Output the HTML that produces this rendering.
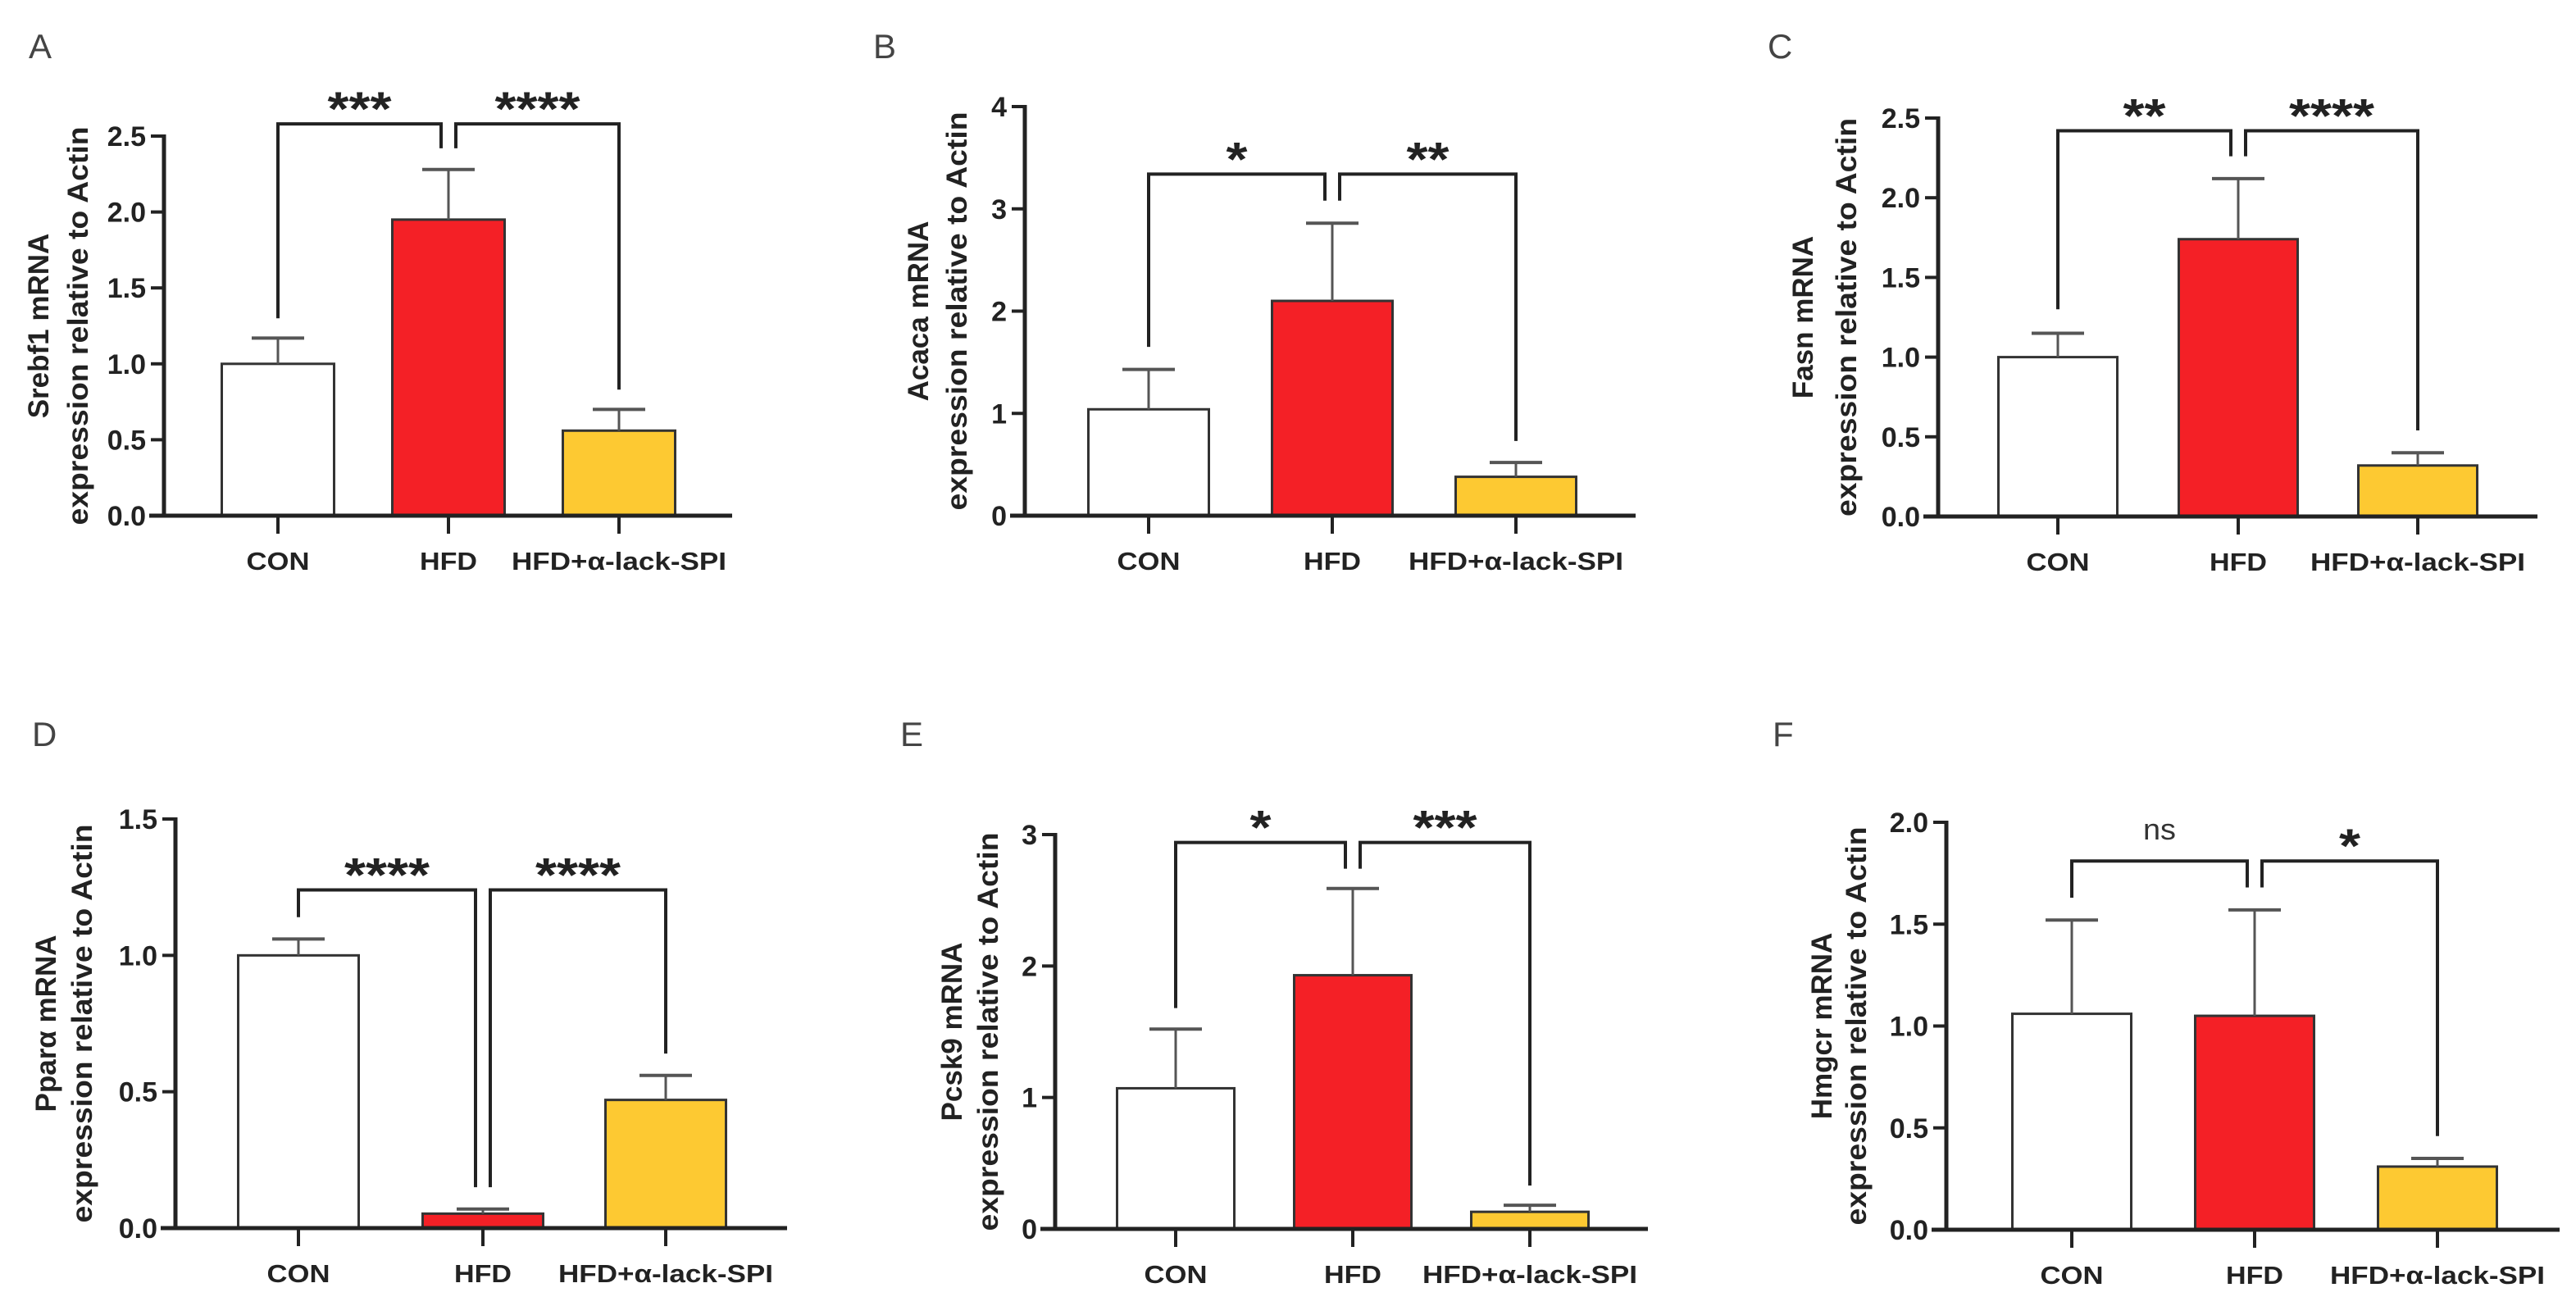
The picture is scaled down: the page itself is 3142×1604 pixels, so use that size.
<!DOCTYPE html>
<html><head><meta charset="utf-8">
<style>
html,body{margin:0;padding:0;background:#fff;}
svg{display:block;}
text{font-family:"Liberation Sans",Arial,sans-serif;}
</style></head>
<body>
<svg id="fig" width="3142" height="1604" viewBox="0 0 3142 1604" xmlns="http://www.w3.org/2000/svg"></svg>
<script>
const categories = ["CON", "HFD", "HFD+\u03b1-lack-SPI"];
const geneNames = ["Srebf1", "Acaca", "Fasn", "Ppar\u03b1", "Pcsk9", "Hmgcr"];
const panelLetters = ["A", "B", "C", "D", "E", "F"];
const meansA = [1.00, 1.95, 0.56];
const errA = [1.17, 2.28, 0.70];
const meansB = [1.04, 2.10, 0.38];
const errB = [1.43, 2.86, 0.52];
const meansC = [1.00, 1.74, 0.32];
const errC = [1.15, 2.12, 0.40];
const meansD = [1.00, 0.053, 0.47];
const errD = [1.06, 0.07, 0.56];
const meansE = [1.07, 1.93, 0.13];
const errE = [1.52, 2.59, 0.18];
const meansF = [1.06, 1.05, 0.31];
const errF = [1.52, 1.57, 0.35];
const ticksA = [0, 0.5, 1.0, 1.5, 2.0, 2.5];
const ticksB = [0, 1, 2, 3, 4];
const ticksC = [0, 0.5, 1.0, 1.5, 2.0, 2.5];
const ticksD = [0, 0.5, 1.0, 1.5];
const ticksE = [0, 1, 2, 3];
const ticksF = [0, 0.5, 1.0, 1.5, 2.0];
const tickLabelsA = ["0.0", "0.5", "1.0", "1.5", "2.0", "2.5"];
const tickLabelsB = ["0", "1", "2", "3", "4"];
const tickLabelsC = ["0.0", "0.5", "1.0", "1.5", "2.0", "2.5"];
const tickLabelsD = ["0.0", "0.5", "1.0", "1.5"];
const tickLabelsE = ["0", "1", "2", "3"];
const tickLabelsF = ["0.0", "0.5", "1.0", "1.5", "2.0"];
const bracketLevels = [2.58, 3.34, 2.42, 1.24, 2.94, 1.81];
const legsA = [1.30, 2.42, 2.42, 0.83];
const legsB = [1.65, 3.08, 3.08, 0.73];
const legsC = [1.30, 2.26, 2.26, 0.54];
const legsD = [1.14, 0.15, 0.15, 0.64];
const legsE = [1.68, 2.74, 2.74, 0.33];
const legsF = [1.63, 1.68, 1.68, 0.46];
const sigLeft = ["***", "*", "**", "****", "*", "ns"];
const sigRight = ["****", "**", "****", "****", "***", "*"];

const layouts = [
  {ax:200, y0:629, yTop:166, xEnd:893, cx:[339,547,755], bw:137, lx:35, ly:71, t:[-153,-105]},
  {ax:1250, y0:629, yTop:130, xEnd:1995, cx:[1401,1625,1849], bw:147, lx:1065, ly:71, t:[-130,-83]},
  {ax:2364, y0:630, yTop:144, xEnd:3095, cx:[2510,2730,2949], bw:145, lx:2156, ly:71, t:[-165,-112]},
  {ax:214, y0:1498, yTop:999, xEnd:960, cx:[364,589,812], bw:147, lx:39, ly:910, t:[-158,-114]},
  {ax:1287, y0:1499, yTop:1018, xEnd:2010, cx:[1434,1650,1866], bw:143, lx:1098, ly:910, t:[-126,-82]},
  {ax:2374, y0:1500, yTop:1003, xEnd:3122, cx:[2527,2750,2973], bw:145, lx:2162, ly:910, t:[-152,-110]}
];
const meansAll = [meansA, meansB, meansC, meansD, meansE, meansF];
const errAll = [errA, errB, errC, errD, errE, errF];
const ticksAll = [ticksA, ticksB, ticksC, ticksD, ticksE, ticksF];
const tickLabelsAll = [tickLabelsA, tickLabelsB, tickLabelsC, tickLabelsD, tickLabelsE, tickLabelsF];
const legsAll = [legsA, legsB, legsC, legsD, legsE, legsF];
const fills = ["#ffffff", "#f42026", "#fdc932"];

const NS = "http://www.w3.org/2000/svg";
const svg = document.getElementById("fig");
function mk(tag, attrs, parent) {
  const e = document.createElementNS(NS, tag);
  for (const k in attrs) e.setAttribute(k, attrs[k]);
  (parent || svg).appendChild(e);
  return e;
}
function line(x1, y1, x2, y2, stroke, w, parent) {
  return mk("line", {x1:x1, y1:y1, x2:x2, y2:y2, stroke:stroke, "stroke-width":w}, parent);
}

layouts.forEach((L, p) => {
  const g = mk("g", {});
  
  
  const ticks = ticksAll[p];
  const maxV = ticks[ticks.length - 1];
  const yScale = v => L.y0 - (v / maxV) * (L.y0 - L.yTop);

  const letter = mk("text", {x:L.lx, y:L.ly, "font-size":42, fill:"#444"}, g);
  letter.textContent = panelLetters[p];
  
  

  meansAll[p].forEach((m, i) => {
    const x = L.cx[i] - L.bw / 2;
    const r = mk("rect", {x:x, y:yScale(m), width:L.bw, height:L.y0 - yScale(m), fill:fills[i], stroke:"#333", "stroke-width":3}, g);
    
    
    const eg = mk("g", {}, g);
    
    
    const et = yScale(errAll[p][i]);
    line(L.cx[i], yScale(m), L.cx[i], et, "#555", 3, eg);
    line(L.cx[i] - 32, et, L.cx[i] + 32, et, "#555", 4, eg);
  });

  const ya = line(L.ax, L.yTop - 2, L.ax, L.y0, "#222", 5, g);
  
  
  const xa = line(L.ax - 18, L.y0, L.xEnd, L.y0, "#222", 5, g);
  
  

  ticks.forEach((t, k) => {
    const y = yScale(t);
    line(L.ax - 16, y, L.ax, y, "#222", 4, g);
    const tl = mk("text", {x:L.ax - 22, y:y + 12, "font-size":34, "font-weight":"bold", "text-anchor":"end", fill:"#222"}, g);
    tl.textContent = tickLabelsAll[p][k];
    
    
  });

  categories.forEach((c, i) => {
    line(L.cx[i], L.y0, L.cx[i], L.y0 + 22, "#222", 4, g);
    const w = i === 2 ? 262 : (i === 0 ? 77 : 70);
    const ct = mk("text", {x:L.cx[i], y:L.y0 + 66, "font-size":31, "font-weight":"bold", "text-anchor":"middle", fill:"#222", textLength:w, lengthAdjust:"spacingAndGlyphs"}, g);
    ct.textContent = c;
    
    
  });

  const midY = (L.y0 + L.yTop) / 2;
  const t1 = mk("text", {x:0, y:0, "font-size":35, "font-weight":"bold", "text-anchor":"middle", fill:"#222",
    transform:"translate(" + (L.ax + L.t[0] + 12) + "," + midY + ") rotate(-90)"}, g);
  t1.textContent = geneNames[p] + " mRNA";
  
  
  const t2 = mk("text", {x:0, y:0, "font-size":35, "font-weight":"bold", "text-anchor":"middle", fill:"#222", textLength:486, lengthAdjust:"spacingAndGlyphs",
    transform:"translate(" + (L.ax + L.t[1] + 12) + "," + midY + ") rotate(-90)"}, g);
  t2.textContent = "expression relative to Actin";
  
  

  const by = yScale(bracketLevels[p]);
  const legs = legsAll[p];
  const bg = mk("g", {}, g);
  
  
  const xl = L.cx[0], xh1 = L.cx[1] - 9, xh2 = L.cx[1] + 9, xr = L.cx[2];
  mk("polyline", {points: xl + "," + yScale(legs[0]) + " " + xl + "," + by + " " + xh1 + "," + by + " " + xh1 + "," + yScale(legs[1]),
    fill:"none", stroke:"#222", "stroke-width":4}, bg);
  mk("polyline", {points: xh2 + "," + yScale(legs[2]) + " " + xh2 + "," + by + " " + xr + "," + by + " " + xr + "," + yScale(legs[3]),
    fill:"none", stroke:"#222", "stroke-width":4}, bg);
  [[sigLeft[p], (xl + xh1) / 2], [sigRight[p], (xh2 + xr) / 2]].forEach(([s, x]) => {
    let st;
    if (s === "ns") {
      st = mk("text", {x:x, y:by - 26, "font-size":36, "text-anchor":"middle", fill:"#333", textLength:40, lengthAdjust:"spacingAndGlyphs"}, bg);
    } else {
      st = mk("text", {x:x, y:by + 2, "font-size":58, "font-weight":"bold", "text-anchor":"middle", fill:"#222", textLength:s.length * 26, lengthAdjust:"spacingAndGlyphs"}, bg);
    }
    st.textContent = s;
    
    
  });
});
</script>
</body></html>
